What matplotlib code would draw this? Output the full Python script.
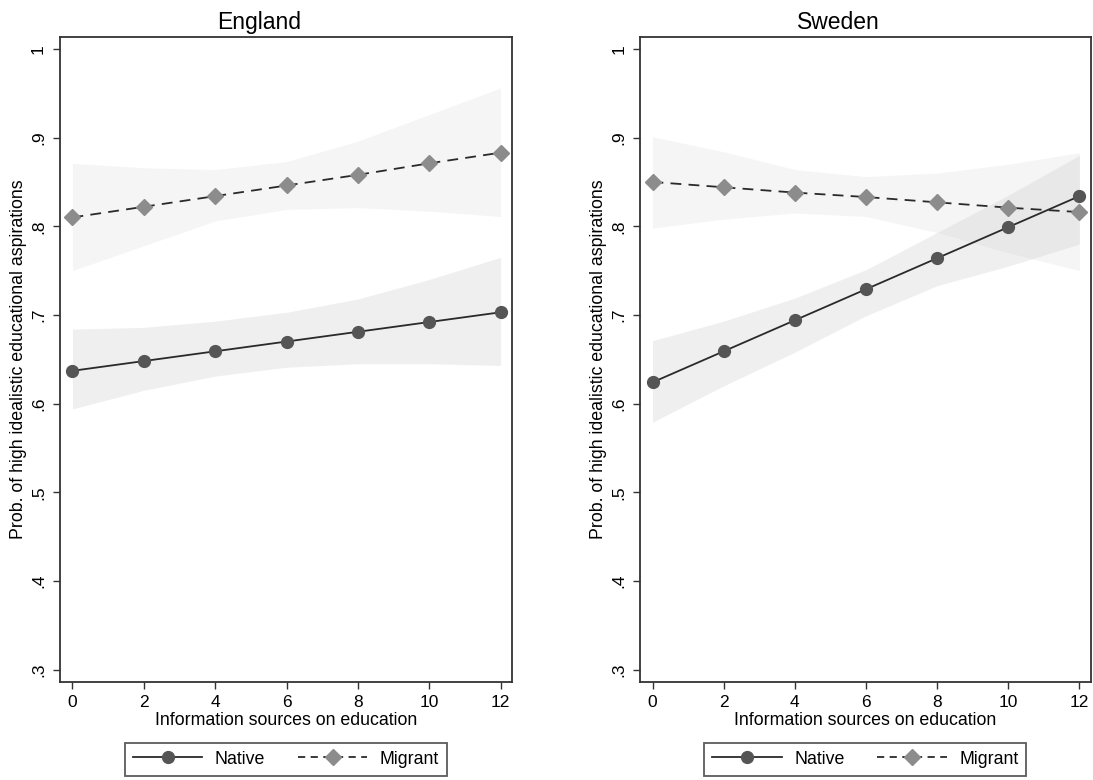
import numpy as np
import matplotlib.pyplot as plt
from matplotlib.lines import Line2D

plt.rcParams['font.family'] = ['Liberation Sans', 'DejaVu Sans']

x = [0, 2, 4, 6, 8, 10, 12]

# England
eng_native = [0.637, 0.648, 0.659, 0.670, 0.681, 0.692, 0.703]
eng_native_lo = [0.594, 0.615, 0.631, 0.641, 0.645, 0.645, 0.643]
eng_native_hi = [0.684, 0.686, 0.693, 0.703, 0.718, 0.740, 0.765]
eng_migrant = [0.810, 0.822, 0.834, 0.846, 0.858, 0.871, 0.883]
eng_migrant_lo = [0.750, 0.778, 0.806, 0.819, 0.821, 0.817, 0.811]
eng_migrant_hi = [0.871, 0.866, 0.864, 0.873, 0.896, 0.926, 0.956]

# Sweden
swe_native = [0.624, 0.659, 0.694, 0.729, 0.764, 0.799, 0.834]
swe_native_lo = [0.579, 0.620, 0.658, 0.699, 0.733, 0.755, 0.780]
swe_native_hi = [0.671, 0.693, 0.719, 0.751, 0.793, 0.835, 0.880]
swe_migrant = [0.850, 0.844, 0.838, 0.833, 0.827, 0.821, 0.816]
swe_migrant_lo = [0.798, 0.808, 0.815, 0.811, 0.793, 0.770, 0.750]
swe_migrant_hi = [0.901, 0.884, 0.864, 0.856, 0.860, 0.870, 0.883]

yticks = [0.3, 0.4, 0.5, 0.6, 0.7, 0.8, 0.9, 1.0]
ytick_labels = ['.3', '.4', '.5', '.6', '.7', '.8', '.9', '1']

panels = [
    ('England', eng_native, eng_native_lo, eng_native_hi, eng_migrant, eng_migrant_lo, eng_migrant_hi),
    ('Sweden', swe_native, swe_native_lo, swe_native_hi, swe_migrant, swe_migrant_lo, swe_migrant_hi),
]

fig = plt.figure(figsize=(10.93, 7.8), dpi=100)
positions = [[0.0549, 0.1256, 0.4135, 0.827], [0.5856, 0.1256, 0.4124, 0.827]]

for pos, (title, nat, nat_lo, nat_hi, mig, mig_lo, mig_hi) in zip(positions, panels):
    ax = fig.add_axes(pos)
    ax.fill_between(x, mig_lo, mig_hi, color='#e0e0e0', alpha=0.3, linewidth=0, zorder=1)
    ax.fill_between(x, nat_lo, nat_hi, color='#cccccc', alpha=0.3, linewidth=0, zorder=1)
    ax.plot(x, nat, color='#2a2a2a', linewidth=1.3, marker='o', markersize=8.5,
            markerfacecolor='#555555', markeredgecolor='#555555', zorder=3)
    ax.plot(x, mig, color='#2a2a2a', linewidth=1.3, linestyle=(0, (6, 4)), marker='D', markersize=8,
            markerfacecolor='#8c8c8c', markeredgecolor='#8c8c8c', zorder=3)
    ax.set_xlim(-0.35, 12.32)
    ax.set_ylim(0.286, 1.0135)
    ax.set_xticks(x)
    ax.set_yticks(yticks)
    ax.set_yticklabels(ytick_labels, rotation=90, va='center')
    ax.tick_params(direction='out', length=5, width=1, colors='#333333', labelsize=12.5, labelcolor='black')
    ax.tick_params(axis='y', pad=5)
    ax.tick_params(axis='x', pad=4)
    for s in ax.spines.values():
        s.set_color('#333333')
        s.set_linewidth(1.3)
    # Stata centres the title over the whole subgraph, incl. the y title area
    ax.set_title(title, fontsize=16.5, pad=6, x=0.44)
    ax.set_xlabel('Information sources on education', fontsize=12.8, labelpad=2)
    ax.set_ylabel('Prob. of high idealistic educational aspirations', fontsize=12.8, labelpad=3)

    handles = [
        Line2D([], [], color='#2a2a2a', linewidth=1.3, marker='o', markersize=8.5,
               markerfacecolor='#555555', markeredgecolor='#555555'),
        Line2D([], [], color='#2a2a2a', linewidth=1.3, linestyle=(0, (4, 3)), marker='D', markersize=8,
               markerfacecolor='#8c8c8c', markeredgecolor='#8c8c8c'),
    ]
    leg = ax.legend(handles, ['Native', 'Migrant'], loc='upper center', bbox_to_anchor=(0.5, -0.094),
                    ncol=2, frameon=True, fancybox=False, edgecolor='#333333', fontsize=12.8,
                    handlelength=3.9, columnspacing=1.85, borderpad=0.45, handletextpad=0.7,
                    borderaxespad=0)
    leg.get_frame().set_linewidth(1.3)

fig.savefig('out.png', dpi=100)
